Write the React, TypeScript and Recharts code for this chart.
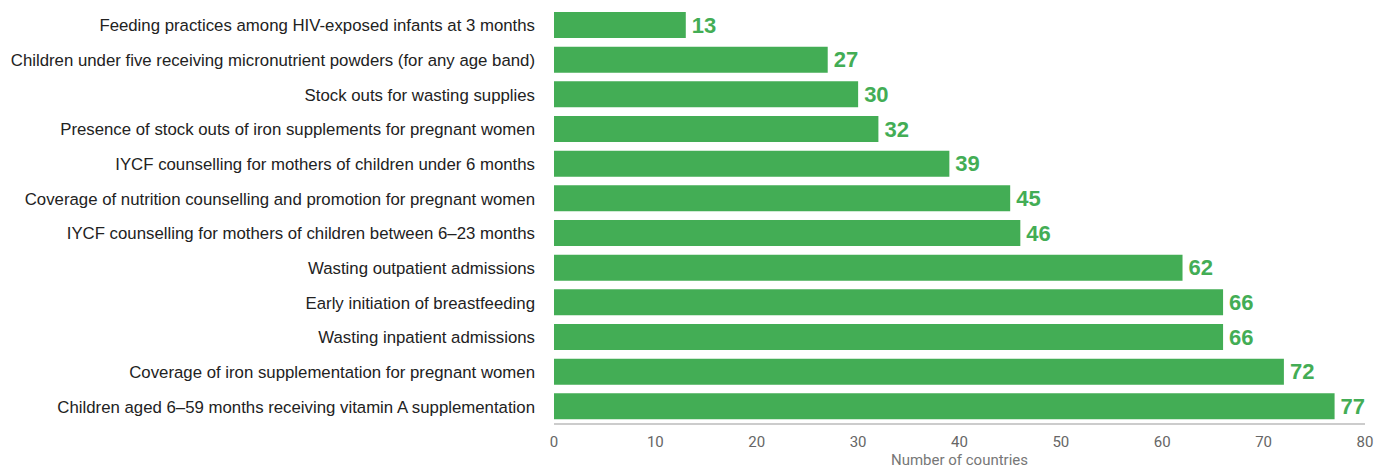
import { BarChart, Bar, XAxis, YAxis, LabelList } from 'recharts';

const GREEN = '#43ad55';

const indicators = [
  'Feeding practices among HIV-exposed infants at 3 months',
  'Children under five receiving micronutrient powders (for any age band)',
  'Stock outs for wasting supplies',
  'Presence of stock outs of iron supplements for pregnant women',
  'IYCF counselling for mothers of children under 6 months',
  'Coverage of nutrition counselling and promotion for pregnant women',
  'IYCF counselling for mothers of children between 6–23 months',
  'Wasting outpatient admissions',
  'Early initiation of breastfeeding',
  'Wasting inpatient admissions',
  'Coverage of iron supplementation for pregnant women',
  'Children aged 6–59 months receiving vitamin A supplementation',
];

const countries = [13, 27, 30, 32, 39, 45, 46, 62, 66, 66, 72, 77];

const xTicks = [0, 10, 20, 30, 40, 50, 60, 70, 80];

const data = indicators.map((name, i) => ({ name, value: countries[i] }));

export default function App() {
  return (
    <div style={{ position: 'absolute', left: 0, top: 0, background: '#fff' }}>
      <BarChart
        width={1384}
        height={468}
        data={data}
        layout="vertical"
        margin={{ top: 8, right: 19, left: 0, bottom: 0 }}
        barSize={26}
      >
        <XAxis
          type="number"
          domain={[0, 80]}
          ticks={xTicks}
          height={44}
          tickLine={false}
          axisLine={{ stroke: '#bbbbbb', strokeWidth: 1.5 }}
          tick={{ fontSize: 15, fill: '#666666', fontFamily: 'Roboto' }}
          tickMargin={6}
          label={{
            value: 'Number of countries',
            position: 'insideBottom',
            offset: 3,
            style: { fontSize: 15, fill: '#777777', fontFamily: 'Roboto' },
          }}
        />
        <YAxis
          type="category"
          dataKey="name"
          width={554}
          tickLine={false}
          axisLine={false}
          tickMargin={13}
          interval={0}
          tick={{ fontSize: 16.8, fill: '#222222', fontFamily: '"Liberation Sans Narrow", "Liberation Sans"' }}
        />
        <Bar dataKey="value" fill={GREEN} isAnimationActive={false}>
          <LabelList
            dataKey="value"
            position="right"
            offset={6}
            style={{ fontSize: 22, fontWeight: 700, fill: GREEN, fontFamily: '"Liberation Sans"' }}
          />
        </Bar>
      </BarChart>
    </div>
  );
}
